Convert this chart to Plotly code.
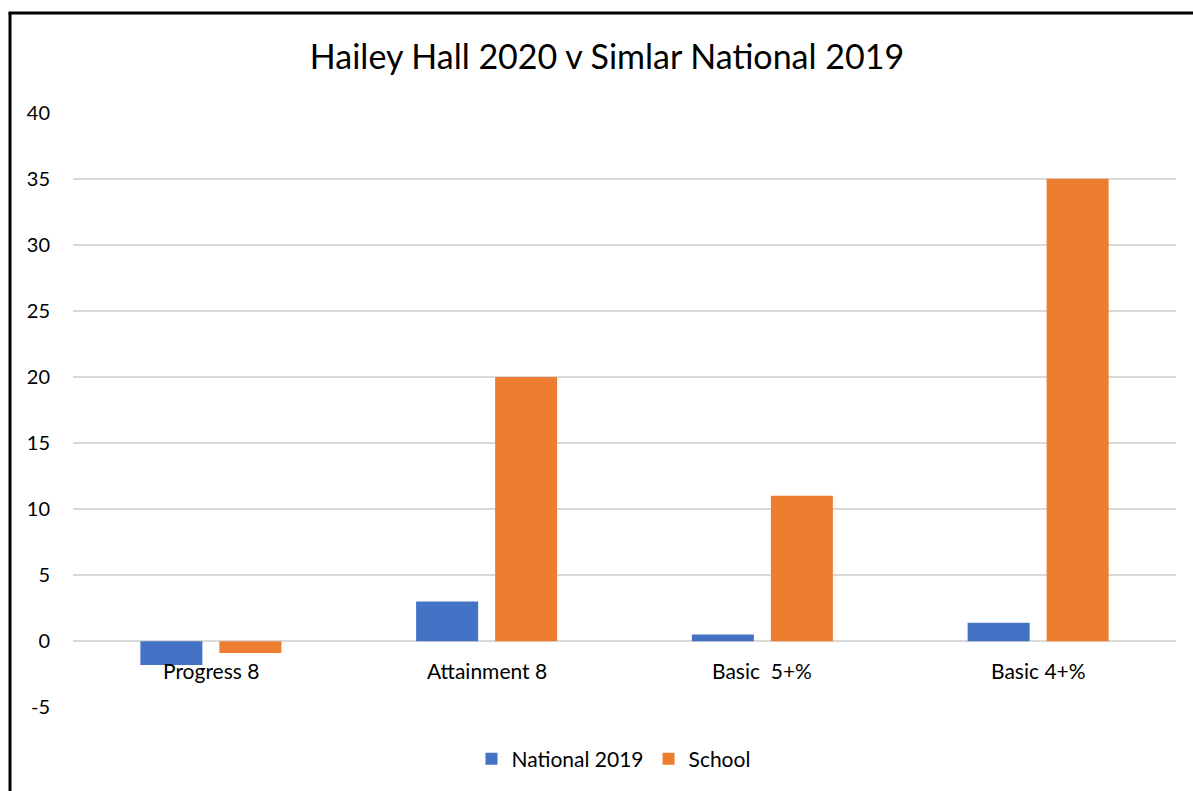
import plotly.graph_objects as go

categories = ["Progress 8", "Attainment 8", "Basic  5+%", "Basic 4+%"]
national_2019 = [-1.8, 3.0, 0.5, 1.4]
school = [-0.9, 20, 11, 35]
y_ticks = [-5, 0, 5, 10, 15, 20, 25, 30, 35, 40]
y_tick_text = ["-5", "0", "5", "10", "15", "20", "25", "30", "35", "40"]

FONT = "Lato, Calibri, Carlito, sans-serif"

W, H = 1193, 791
L, R, T, B = 73, 17, 112, 83
PW, PH = W - L - R, H - T - B

fig = go.Figure()
fig.add_trace(go.Bar(name="National 2019", x=categories, y=national_2019,
                     marker=dict(color="#4472C4", line=dict(width=0))))
fig.add_trace(go.Bar(name="School", x=categories, y=school,
                     marker=dict(color="#ED7D31", line=dict(width=0))))

for c in categories:
    fig.add_annotation(x=c, y=0, xref="x", yref="y", text=c, showarrow=False,
                       yanchor="top", yshift=-15, font=dict(size=21, color="#000000", family=FONT))

bx = (10 - L) / PW
by = (PH + T - 13) / PH

fig.update_layout(
    width=W, height=H,
    margin=dict(l=L, r=R, t=T, b=B),
    paper_bgcolor="white", plot_bgcolor="white",
    title=dict(text="Hailey Hall 2020 v Simlar National 2019", x=607 / W, xanchor="center",
               y=1 - 57 / H, yanchor="middle", font=dict(size=34, color="#000000", family=FONT)),
    barmode="group", bargap=0.427, bargroupgap=0.215,
    showlegend=True,
    legend=dict(orientation="h", x=0.49, xanchor="center", y=(PH - 759 + T) / PH, yanchor="middle",
                font=dict(size=21, color="#000000", family=FONT), traceorder="normal",
                itemwidth=30),
    xaxis=dict(showticklabels=False, showgrid=False, zeroline=False, showline=False),
    yaxis=dict(range=[-5.06, 40.06], tickvals=y_ticks, ticktext=y_tick_text,
               showgrid=True, gridcolor="#d9d9d9", gridwidth=1.5,
               zeroline=True, zerolinecolor="#d9d9d9", zerolinewidth=1.5, showline=False,
               tickfont=dict(size=20, color="#000000", family=FONT), ticklabelstandoff=22),
    shapes=[
        dict(type="line", xref="paper", yref="paper", x0=bx, x1=bx, y0=-0.5, y1=by,
             line=dict(color="black", width=3), layer="above"),
        dict(type="line", xref="paper", yref="paper", x0=bx - 0.0014, x1=1.2, y0=by, y1=by,
             line=dict(color="black", width=3), layer="above"),
    ],
)

fig.write_html(
    "out.html",
    config={"displayModeBar": False},
    post_script="document.body.style.margin='0';document.body.style.overflow='hidden';"
                "document.documentElement.style.overflow='hidden';",
)
